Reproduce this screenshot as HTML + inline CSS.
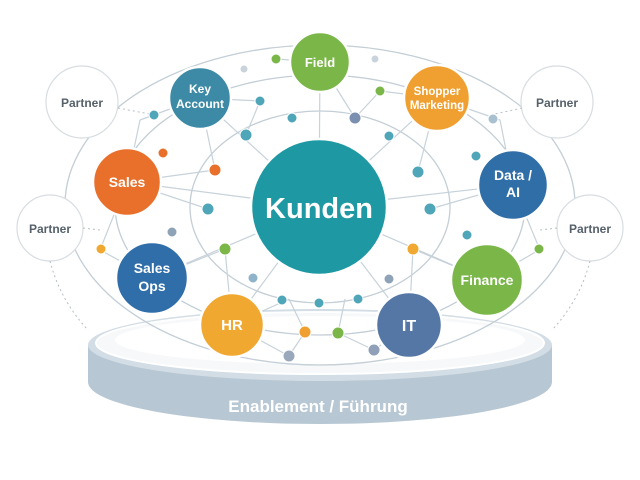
<!DOCTYPE html>
<html><head><meta charset="utf-8"><style>
html,body{margin:0;padding:0;background:#fff;}
svg{display:block}
text{font-family:"Liberation Sans",sans-serif;font-weight:bold;text-anchor:middle;fill:#fff}
</style></head><body>
<svg width="640" height="480" viewBox="0 0 640 480">
<!-- platform -->
<path d="M88,345 L88,382 A232,42 0 0 0 552,382 L552,345 Z" fill="#b7c7d3"/>
<ellipse cx="320" cy="345" rx="232" ry="36" fill="#d3dde5"/>
<ellipse cx="320" cy="343" rx="224" ry="31" fill="#f6f8fa" stroke="#fff" stroke-width="2"/>
<ellipse cx="320" cy="340" rx="205" ry="24" fill="#fff"/>
<text x="318" y="412" font-size="17" fill="#fff">Enablement / Führung</text>
<!-- network rings -->
<g fill="none" stroke="#c3ced6" stroke-width="1.3">
<ellipse cx="320" cy="205" rx="255" ry="160"/>
<ellipse cx="320" cy="205" rx="205" ry="130"/>
<ellipse cx="320" cy="207" rx="130" ry="96"/>
</g>
<g stroke="#c7d2da" stroke-width="1.2">
<line x1="319" y1="207" x2="320" y2="62"/><line x1="319" y1="207" x2="200" y2="98"/><line x1="319" y1="207" x2="437" y2="98"/>
<line x1="319" y1="207" x2="127" y2="182"/><line x1="319" y1="207" x2="513" y2="185"/><line x1="319" y1="207" x2="152" y2="278"/>
<line x1="319" y1="207" x2="487" y2="280"/><line x1="319" y1="207" x2="232" y2="325"/><line x1="319" y1="207" x2="409" y2="325"/>
<line x1="200" y1="98" x2="215" y2="170"/><line x1="127" y1="182" x2="215" y2="170"/><line x1="127" y1="182" x2="208" y2="209"/>
<line x1="152" y1="278" x2="225" y2="249"/><line x1="232" y1="325" x2="225" y2="249"/><line x1="232" y1="325" x2="289" y2="299"/>
<line x1="289" y1="299" x2="305" y2="332"/><line x1="305" y1="332" x2="289" y2="356"/><line x1="345" y1="299" x2="338" y2="333"/>
<line x1="338" y1="333" x2="374" y2="350"/><line x1="409" y1="325" x2="413" y2="249"/><line x1="487" y1="280" x2="413" y2="249"/>
<line x1="513" y1="185" x2="430" y2="209"/><line x1="437" y1="98" x2="418" y2="172"/><line x1="320" y1="62" x2="355" y2="118"/>
<line x1="320" y1="62" x2="276" y2="59"/><line x1="437" y1="98" x2="380" y2="91"/><line x1="200" y1="98" x2="260" y2="101"/>
<line x1="260" y1="101" x2="246" y2="135"/><line x1="380" y1="91" x2="355" y2="118"/><line x1="127" y1="182" x2="100" y2="250"/>
<line x1="513" y1="185" x2="540" y2="250"/><line x1="152" y1="278" x2="100" y2="250"/><line x1="487" y1="280" x2="539" y2="250"/>
<line x1="409" y1="325" x2="374" y2="350"/><line x1="232" y1="325" x2="289" y2="356"/><line x1="140" y1="120" x2="200" y2="98"/>
<line x1="500" y1="120" x2="437" y2="98"/><line x1="140" y1="120" x2="127" y2="182"/><line x1="500" y1="120" x2="513" y2="185"/>
</g>
<!-- partners -->
<g fill="#fff" stroke="#d8dde2" stroke-width="1.2">
<circle cx="82" cy="102" r="36"/><circle cx="50" cy="228" r="33"/><circle cx="557" cy="102" r="36"/><circle cx="590" cy="228" r="33"/>
</g>
<g stroke="#b5bec6" stroke-dasharray="2,3" fill="none">
<line x1="118" y1="108" x2="155" y2="115"/><line x1="83" y1="228" x2="100" y2="230"/>
<line x1="522" y1="108" x2="490" y2="115"/><line x1="557" y1="228" x2="540" y2="230"/>
<path d="M50,261 Q60,300 88,330"/><path d="M590,261 Q580,300 552,330"/>
</g>
<g font-size="12" style="fill:#5a6570">
<text x="82" y="107" style="fill:#56616b">Partner</text><text x="50" y="233" style="fill:#56616b">Partner</text>
<text x="557" y="107" style="fill:#56616b">Partner</text><text x="590" y="233" style="fill:#56616b">Partner</text>
</g>
<!-- small dots -->
<g stroke="#fff" stroke-width="1">
<circle cx="276" cy="59" r="5" fill="#7ab648"/><circle cx="244" cy="69" r="4" fill="#c9d3dc"/><circle cx="375" cy="59" r="4" fill="#c9d3dc"/>
<circle cx="380" cy="91" r="5" fill="#7ab648"/><circle cx="260" cy="101" r="5" fill="#4ea6b8"/><circle cx="292" cy="118" r="5" fill="#4ea6b8"/>
<circle cx="355" cy="118" r="6" fill="#7b8fb0"/><circle cx="246" cy="135" r="6" fill="#4ea6b8"/><circle cx="389" cy="136" r="5" fill="#4ea6b8"/>
<circle cx="154" cy="115" r="5" fill="#4ea6b8"/><circle cx="493" cy="119" r="5" fill="#a8c0d0"/><circle cx="163" cy="153" r="5" fill="#e8702a"/>
<circle cx="215" cy="170" r="6" fill="#e8702a"/><circle cx="418" cy="172" r="6" fill="#4ea6b8"/><circle cx="476" cy="156" r="5" fill="#4ea6b8"/>
<circle cx="208" cy="209" r="6" fill="#4ea6b8"/><circle cx="430" cy="209" r="6" fill="#4ea6b8"/><circle cx="172" cy="232" r="5" fill="#8fa3b8"/>
<circle cx="467" cy="235" r="5" fill="#4ea6b8"/><circle cx="101" cy="249" r="5" fill="#f0a830"/><circle cx="539" cy="249" r="5" fill="#7ab648"/>
<circle cx="225" cy="249" r="6" fill="#7ab648"/><circle cx="413" cy="249" r="6" fill="#f0a830"/><circle cx="253" cy="278" r="5" fill="#8fb3c8"/>
<circle cx="389" cy="279" r="5" fill="#8fa3b8"/><circle cx="282" cy="300" r="5" fill="#4ea6b8"/><circle cx="319" cy="303" r="5" fill="#4ea6b8"/>
<circle cx="358" cy="299" r="5" fill="#4ea6b8"/><circle cx="305" cy="332" r="6" fill="#f0a030"/><circle cx="338" cy="333" r="6" fill="#7ab648"/>
<circle cx="289" cy="356" r="6" fill="#9aa8bc"/><circle cx="374" cy="350" r="6" fill="#8fa0b8"/>
</g>
<!-- main nodes -->
<g stroke="#fff" stroke-width="2.5">
<circle cx="319" cy="207" r="68" fill="#1e98a2"/>
<circle cx="320" cy="62" r="30" fill="#7ab648"/>
<circle cx="200" cy="98" r="31" fill="#3d8aa6"/>
<circle cx="437" cy="98" r="33" fill="#f0a030"/>
<circle cx="127" cy="182" r="34" fill="#e8702a"/>
<circle cx="513" cy="185" r="35" fill="#2f6ea6"/>
<circle cx="152" cy="278" r="36" fill="#2f6ea8"/>
<circle cx="487" cy="280" r="36" fill="#7ab648"/>
<circle cx="232" cy="325" r="32" fill="#f0a830"/>
<circle cx="409" cy="325" r="33" fill="#5577a6"/>
</g>
<text x="319" y="218" font-size="29">Kunden</text>
<text x="320" y="67" font-size="13">Field</text>
<text x="200" y="93" font-size="12">Key</text><text x="200" y="108" font-size="12">Account</text>
<text x="437" y="95" font-size="11.5">Shopper</text><text x="437" y="109" font-size="11.5">Marketing</text>
<text x="127" y="187" font-size="14">Sales</text>
<text x="513" y="180" font-size="14">Data /</text><text x="513" y="197" font-size="14">AI</text>
<text x="152" y="273" font-size="14">Sales</text><text x="152" y="291" font-size="14">Ops</text>
<text x="487" y="285" font-size="14">Finance</text>
<text x="232" y="330" font-size="15">HR</text>
<text x="409" y="331" font-size="16">IT</text>
</svg>
</body></html>
